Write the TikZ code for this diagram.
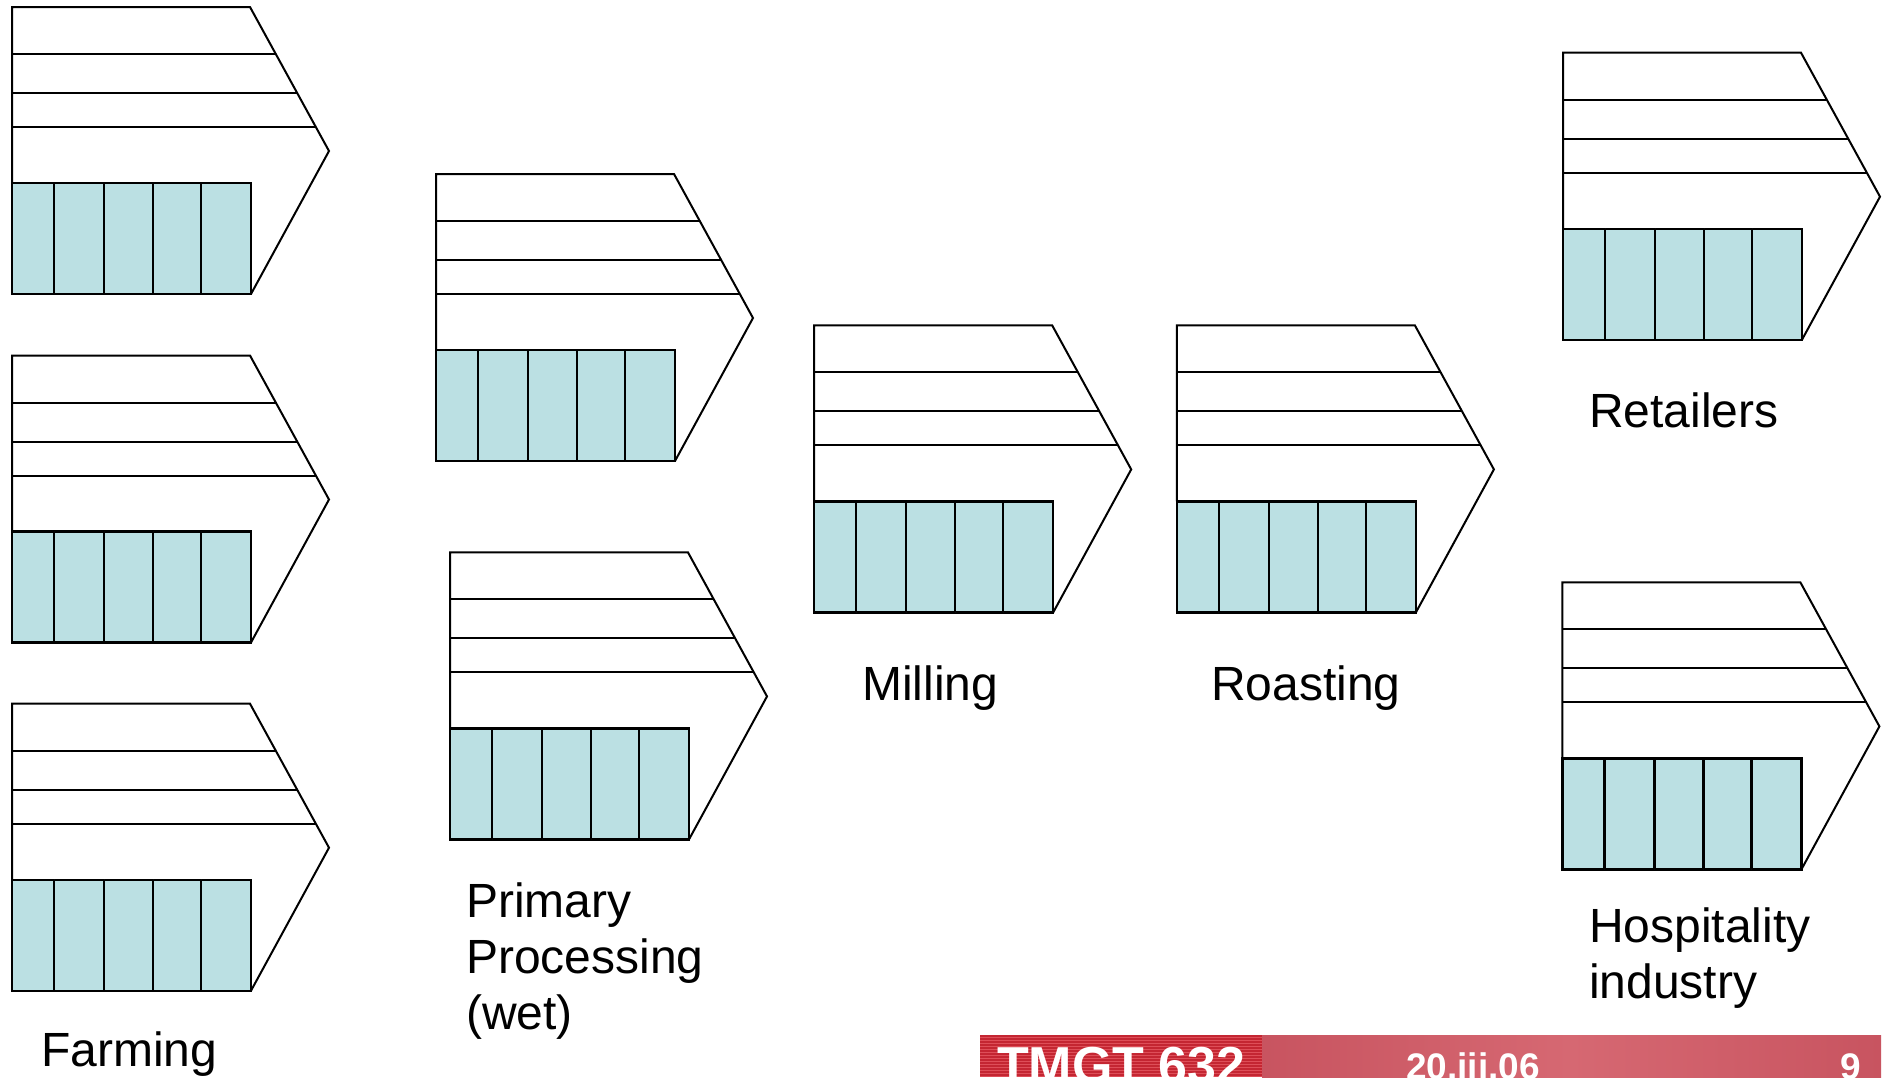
\documentclass[tikz,border=0pt]{standalone}
\usepackage{fontspec}
\setmainfont{Liberation Sans}
\definecolor{cellblue}{RGB}{187,224,227}
\definecolor{footred}{RGB}{196,38,50}
\definecolor{footstripe}{RGB}{222,78,88}
\definecolor{footpinkA}{RGB}{200,84,96}
\definecolor{footpinkB}{RGB}{214,104,114}
\newcommand\valuechain[3]{%
  \begin{scope}[shift={(#2,#3)}]
    \coordinate (#1) at (0,0);
    \filldraw[cell] (0,176) rectangle (239,287);
    \foreach \d in {42,92,141,189} \draw[cell] (\d,176) -- (\d,287);
    \draw[outline] (0,176) -- (0,0) -- (238,0) -- (317,144) -- (239,287);
    \foreach \h in {47,86,120} \draw[outline] (0,\h) -- ({238+\h*79/144},\h);
  \end{scope}}
\begin{document}
\begin{tikzpicture}[x=1pt,y=-1pt,line join=miter,
  cell/.style={fill=cellblue,draw=black,line width=2.4},
  outline/.style={draw=black,line width=2},
  lbl/.style={anchor=base west,inner sep=0,font=\fontsize{48}{56}\selectfont},
  foot/.style={inner sep=0,text=white,font=\bfseries}]
\useasboundingbox (0,0) rectangle (1883,1077);
\fill[white] (0,0) rectangle (1883,1077);
% value chains
\valuechain{farmA}{12}{7}
\valuechain{farmB}{12}{355.5}
\valuechain{farmC}{12}{703.7}
\valuechain{primA}{436}{174}
\valuechain{primB}{450}{552.4}
\valuechain{mill}{814.2}{325.4}
\valuechain{roast}{1176.9}{325.4}
\valuechain{retail}{1563}{52.7}
\valuechain{hosp}{1562.4}{582.4}
% labels
\node[lbl] (lfarm) at (41,1066) {Farming};
\node[lbl] (lprim1) at (466,917) {Primary};
\node[lbl] (lprim2) at (466,973) {Processing};
\node[lbl] (lprim3) at (466,1029) {(wet)};
\node[lbl] (lmill) at (862,700) {Milling};
\node[lbl] (lroast) at (1211,700) {Roasting};
\node[lbl] (lretail) at (1589,427) {Retailers};
\node[lbl] (lhosp1) at (1589,942) {Hospitality};
\node[lbl] (lhosp2) at (1589,998) {industry};
% footer bar
\fill[footred] (980,1035) rectangle (1262,1077);
\foreach \yy in {1037,1040,...,1077} \draw[footstripe,line width=1] (980,\yy) -- (1262,\yy);
\shade[left color=footpinkA,right color=footpinkB] (1262,1035) rectangle (1570,1077);
\shade[left color=footpinkB,right color=footpinkA] (1570,1035) rectangle (1881,1077);
\node[foot,anchor=base west,font=\bfseries\fontsize{52}{60}\selectfont] (course) at (997,1083) {TMGT 632};
\node[foot,anchor=base west,font=\bfseries\fontsize{37}{44}\selectfont] (date) at (1406,1079) {20.iii.06};
\node[foot,anchor=base east,font=\bfseries\fontsize{37}{44}\selectfont] (page) at (1861,1079) {9};
\end{tikzpicture}
\end{document}
